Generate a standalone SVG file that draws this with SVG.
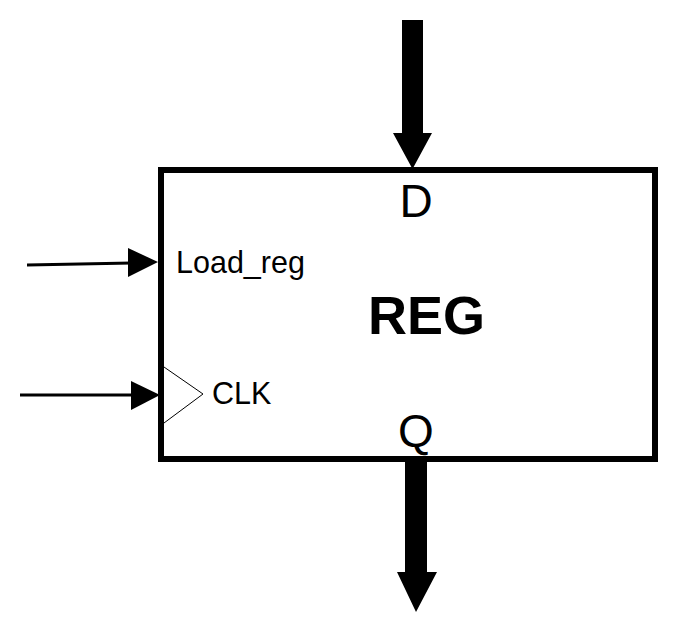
<svg xmlns="http://www.w3.org/2000/svg" width="678" height="635" viewBox="0 0 678 635">
<style>
text{font-family:"Liberation Sans",Arial,sans-serif;fill:#000}
.lbl{font-size:30.5px}
.port{font-size:46px;text-anchor:middle}
.title{font-size:54px;font-weight:bold;text-anchor:middle}
.thin{stroke:#000;stroke-width:3;fill:none}
</style>
<rect width="678" height="635" fill="#fff"/>
<g id="connectors">
<polygon points="402,20 423,20 423,133 432,133 412.5,169 393,133 402,133" fill="#000"/>
<polygon points="405,459 427,459 427,572 437,572 416,612 397,572 405,572" fill="#000"/>
<line class="thin" x1="27" y1="265" x2="132" y2="263"/>
<polygon points="128,248 158,262 128,277" fill="#000"/>
<line class="thin" x1="20" y1="395" x2="134" y2="395"/>
<polygon points="131,381 160,395 131,410" fill="#000"/>
</g>
<g id="reg">
<rect x="161" y="170" width="494" height="289" fill="none" stroke="#000" stroke-width="6"/>
<polyline points="164,367 203,394 164,423" fill="none" stroke="#000" stroke-width="1"/>
<text class="port" x="416" y="217">D</text>
<text class="port" x="416" y="447">Q</text>
<text class="title" x="426.5" y="334">REG</text>
<text class="lbl" x="176" y="273">Load_reg</text>
<text class="lbl" x="212" y="404">CLK</text>
</g>
</svg>
